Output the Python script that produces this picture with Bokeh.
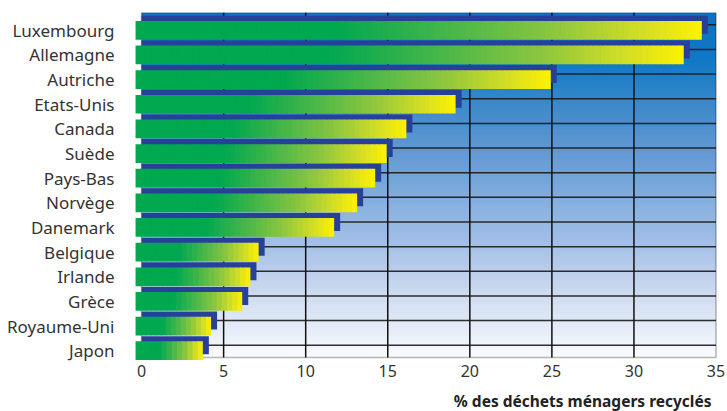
import numpy as np
from bokeh.plotting import figure
from bokeh.models import FixedTicker, BoxAnnotation, Title, Range1d
from bokeh.embed import file_html
from bokeh.resources import INLINE

# ---- data ----
countries = ["Luxembourg", "Allemagne", "Autriche", "Etats-Unis", "Canada", "Suède",
             "Pays-Bas", "Norvège", "Danemark", "Belgique", "Irlande", "Grèce",
             "Royaume-Uni", "Japon"]
recycled = [34.5, 33.4, 25.3, 19.5, 16.5, 15.3, 14.6, 13.5, 12.1, 7.5, 7.0, 6.5, 4.6, 4.1]
x_ticks = [0, 5, 10, 15, 20, 25, 30, 35]
x_title = "% des déchets ménagers recyclés"

# ---- style ----
FONT = "Noto Sans"
SHADOW = "#27409a"
BAR_STOPS = [(0.0, (0, 168, 80)), (0.35, (80, 184, 72)), (0.6, (141, 198, 63)),
             (0.85, (215, 223, 35)), (1.0, (255, 242, 0))]
BG_STOPS = [(0.0, (12, 112, 196)), (0.14, (16, 120, 196)), (0.21, (40, 130, 200)),
            (0.28, (65, 138, 203)), (0.40, (98, 152, 210)), (0.49, (118, 166, 217)),
            (0.57, (140, 178, 223)), (0.66, (160, 190, 230)), (0.76, (190, 208, 236)),
            (0.83, (210, 222, 241)), (0.91, (228, 235, 247)), (1.0, (250, 251, 254))]
DX = -0.366   # front bar offset (data units along x)
DY = -0.223   # front bar offset (category units)


def interp(stops, t):
    t = min(max(t, 0.0), 1.0)
    for (a, ca), (b, cb) in zip(stops[:-1], stops[1:]):
        if t <= b:
            u = 0 if b == a else (t - a) / (b - a)
            return tuple(int(round(ca[k] + (cb[k] - ca[k]) * u)) for k in range(3))
    return stops[-1][1]


def hexc(c):
    return "#%02x%02x%02x" % c


n = len(countries)
top = float(n)
centers = [n - 0.5 - i for i in range(n)]
label_pos = [round(c + DY, 3) for c in centers]

p = figure(output_backend="svg", toolbar_location=None,
           x_range=Range1d(-0.43, 35.09), y_range=Range1d(-0.12, top),
           frame_width=583, frame_height=348,
           min_border_left=134, min_border_right=8, min_border_top=12, min_border_bottom=42)
p.outline_line_color = None
p.background_fill_color = "white"
p.border_fill_color = "white"

# background gradient
H = 300
img = np.empty((H, 2), dtype=np.uint32)
view = img.view(dtype=np.uint8).reshape((H, 2, 4))
for r in range(H):
    f = 1.0 - (r + 0.5) / H
    c = interp(BG_STOPS, f)
    view[r, :, 0] = c[0]
    view[r, :, 1] = c[1]
    view[r, :, 2] = c[2]
    view[r, :, 3] = 255
p.image_rgba(image=[img], x=0, y=0, dw=x_ticks[-1], dh=top, level="image")

# border of plot area
p.add_layout(BoxAnnotation(left=0, right=x_ticks[-1], bottom=0, top=top,
                           fill_alpha=0, line_color="#111111", line_width=1.5,
                           level="underlay"))

# grid lines
p.segment(x0=[0] * n, x1=[x_ticks[-1]] * n, y0=centers, y1=centers,
          line_color="#1a1a1a", line_width=1.5, line_alpha=0.9)
inner = x_ticks[1:-1]
p.segment(x0=inner, x1=inner, y0=[0] * len(inner), y1=[top] * len(inner),
          line_color="#111111", line_width=1.5)

# shadow bars
p.hbar(y=centers, left=0, right=recycled, height=0.73, color=SHADOW, line_color=None)

# front gradient bars
STEP = 0.32
ls, rs, ys, cs = [], [], [], []
for c, v in zip(centers, recycled):
    nseg = max(8, int(np.ceil(v / STEP)))
    edges = np.linspace(0, v, nseg + 1)
    for k in range(nseg):
        t = (edges[k] + edges[k + 1]) / 2 / v
        s = (t - 0.35) / 0.65
        ls.append(edges[k] + DX)
        rs.append(edges[k + 1] + DX + (0.04 if k < nseg - 1 else 0))
        ys.append(c + DY)
        cs.append(hexc(interp(BAR_STOPS, s)))
p.hbar(y=ys, left=ls, right=rs, height=0.76, fill_color=cs, line_color=None)

# axes
p.xgrid.visible = False
p.ygrid.visible = False
p.xaxis.ticker = FixedTicker(ticks=x_ticks)
p.yaxis.ticker = FixedTicker(ticks=label_pos)
p.yaxis.major_label_overrides = {lp: name for lp, name in zip(label_pos, countries)}
for ax in (p.xaxis[0], p.yaxis[0]):
    ax.axis_line_color = None
    ax.major_tick_line_color = None
    ax.minor_tick_line_color = None
    ax.major_label_text_font = FONT
    ax.major_label_text_color = "#333333"
p.xaxis.major_label_text_font_size = "16px"
p.xaxis.major_label_standoff = -2
p.yaxis.major_label_text_font_size = "17px"
p.yaxis.major_label_standoff = 14

p.add_layout(Title(text=x_title, align="right", offset=6, standoff=17,
                   text_font=FONT, text_font_style="bold", text_font_size="15.5px",
                   text_color="#222222"), "below")

open("out.html", "w").write(file_html(p, INLINE))
